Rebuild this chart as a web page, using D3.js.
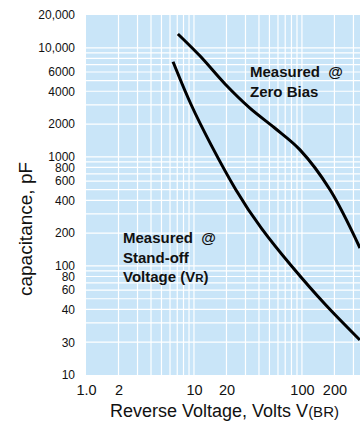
<!DOCTYPE html>
<html>
<head>
<meta charset="utf-8">
<script src="https://cdn.jsdelivr.net/npm/d3@7"></script>
<style>
  html, body { margin: 0; padding: 0; background: #fff; }
  svg { display: block; font-family: "Liberation Sans", Arial, sans-serif; }
</style>
</head>
<body>
<svg id="chart" width="360" height="421"></svg>
<script>
// ---- data ----
const xTickValues = [1, 2, 10, 20, 100, 200];
const xTickLabels = ["1.0", "2", "10", "20", "100", "200"];
const yTickValues = [10, 20, 40, 60, 80, 100, 200, 400, 600, 800, 1000, 2000, 4000, 6000, 10000, 20000];
const yTickLabels = ["10", "30", "40", "60", "80", "100", "200", "400", "600", "800", "1000", "2000", "4000", "6000", "10,000", "20,000"];
const xGridValues = [2,3,4,5,6,7,8,9,10,20,30,40,50,60,70,80,90,100,200,300];
const yGridValues = [20,30,40,50,60,70,80,90,100,200,300,400,500,600,700,800,900,1000,2000,3000,4000,5000,6000,7000,8000,9000,10000];

const zeroBiasVolts = [7.1, 11.4, 19.4, 33, 56, 96, 182, 345];
const zeroBiasPF    = [13400, 8400, 4660, 2800, 1840, 1160, 500, 146];
const standoffVolts = [6.4, 9.3, 14.4, 24.3, 41.5, 78.7, 166, 344];
const standoffPF    = [7450, 2990, 1280, 490, 220, 101, 43, 21];

// ---- layout ----
const svg = d3.select("#chart");
const plot = {left: 86, right: 360, top: 15, bottom: 375};

const x = d3.scaleLog().domain([1, 345]).range([plot.left, plot.right]);
const y = d3.scaleLog().domain([10, 20000]).range([plot.bottom, plot.top]);

svg.append("rect")
  .attr("x", plot.left).attr("y", plot.top)
  .attr("width", plot.right - plot.left).attr("height", plot.bottom - plot.top)
  .attr("fill", "#c9e5f8");

svg.append("clipPath").attr("id", "clip")
  .append("rect")
  .attr("x", plot.left).attr("y", plot.top)
  .attr("width", plot.right - plot.left).attr("height", plot.bottom - plot.top);

const grid = svg.append("g").attr("clip-path", "url(#clip)");
grid.selectAll("line.gx").data(xGridValues).join("line")
  .attr("class", "gx")
  .attr("x1", d => x(d)).attr("x2", d => x(d))
  .attr("y1", plot.top).attr("y2", plot.bottom)
  .attr("stroke", "#fff").attr("stroke-width", 1.2);
grid.selectAll("line.gy").data(yGridValues).join("line")
  .attr("class", "gy")
  .attr("y1", d => y(d)).attr("y2", d => y(d))
  .attr("x1", plot.left).attr("x2", plot.right)
  .attr("stroke", "#fff").attr("stroke-width", 1.2);

// ---- curves ----
const line = d3.line()
  .x(d => x(d[0])).y(d => y(d[1]))
  .curve(d3.curveCatmullRom.alpha(0.5));

const zeroBias = zeroBiasVolts.map((v, i) => [v, zeroBiasPF[i]]);
const standoff = standoffVolts.map((v, i) => [v, standoffPF[i]]);

const curves = svg.append("g").attr("clip-path", "url(#clip)");
curves.append("path").datum(zeroBias)
  .attr("d", line)
  .attr("fill", "none").attr("stroke", "#000").attr("stroke-width", 3);
curves.append("path").datum(standoff)
  .attr("d", line.curve(d3.curveBasis))
  .attr("fill", "none").attr("stroke", "#000").attr("stroke-width", 3);

// ---- axes (labels only) ----
const yAxis = d3.axisLeft(y)
  .tickValues(yTickValues)
  .tickFormat((d, i) => yTickLabels[i])
  .tickSize(0).tickPadding(11);
const gy = svg.append("g").attr("transform", `translate(${plot.left},0)`).call(yAxis);
gy.select(".domain").remove();
gy.selectAll("text").attr("font-size", 12).attr("fill", "#111")
  .attr("font-family", "Liberation Sans, Arial, sans-serif");

const xAxis = d3.axisBottom(x)
  .tickValues(xTickValues)
  .tickFormat((d, i) => xTickLabels[i])
  .tickSize(0).tickPadding(10);
const gx = svg.append("g").attr("transform", `translate(0,${plot.bottom})`).call(xAxis);
gx.select(".domain").remove();
gx.selectAll("text").attr("font-size", 14.5).attr("fill", "#111")
  .attr("font-family", "Liberation Sans, Arial, sans-serif");

// ---- axis titles ----
svg.append("text")
  .attr("transform", "translate(32,229) rotate(-90)")
  .attr("text-anchor", "middle")
  .attr("font-size", 19).attr("fill", "#111")
  .text("capacitance, pF");

const xt = svg.append("text")
  .attr("x", 110).attr("y", 417)
  .attr("font-size", 18).attr("fill", "#111");
xt.append("tspan").text("Reverse Voltage, Volts V");
xt.append("tspan").attr("font-size", 15).text("(BR)");

// ---- annotations ----
const ann1 = svg.append("text").attr("font-size", 15).attr("font-weight", "bold")
  .attr("fill", "#111").style("white-space", "pre");
ann1.append("tspan").attr("x", 250).attr("y", 77).text("Measured  @");
ann1.append("tspan").attr("x", 250).attr("y", 97).text("Zero Bias");

const ann2 = svg.append("text").attr("font-size", 15).attr("font-weight", "bold")
  .attr("fill", "#111").style("white-space", "pre");
ann2.append("tspan").attr("x", 123).attr("y", 243).text("Measured  @");
ann2.append("tspan").attr("x", 123).attr("y", 263).text("Stand-off");
const l3 = ann2.append("tspan").attr("x", 123).attr("y", 282);
l3.append("tspan").text("Voltage (V");
l3.append("tspan").attr("font-size", 11.5).text("R");
l3.append("tspan").text(")");
</script>
</body>
</html>
